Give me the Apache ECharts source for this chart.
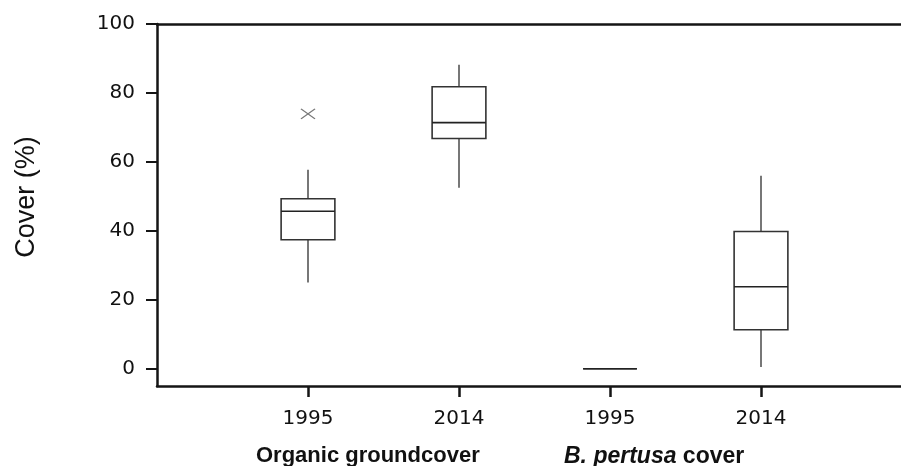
<!DOCTYPE html>
<html>
<head>
<meta charset="utf-8">
<script src="https://cdn.jsdelivr.net/npm/echarts@6/dist/echarts.min.js"></script>
<style>
  html, body { margin: 0; padding: 0; background: #fff; }
  #chart { width: 901px; height: 466px; }
</style>
</head>
<body>
<div id="chart"></div>
<script>
// categories (first and last slots are empty padding)
const xLabels = ['', '1995', '2014', '1995', '2014', '']
const yTicks = [0, 20, 40, 60, 80, 100]

// box statistics, one entry per box (category index 1..4)
const boxIndex = [1, 2, 3, 4]
const boxMin = [25, 52.5, 0, 0.5]
const boxQ1 = [37.4, 66.8, 0, 11.3]
const boxMedian = [45.7, 71.4, 0, 23.8]
const boxQ3 = [49.3, 81.8, 0, 39.8]
const boxMax = [57.7, 88.2, 0, 56]

// outliers: [category index, value]
const outliers = [[1, 73.9]]

const boxData = boxIndex.map((x, i) => [x, boxMin[i], boxQ1[i], boxMedian[i], boxQ3[i], boxMax[i]])

const chart = echarts.init(document.getElementById('chart'))

const axisColor = '#151515'

const option = {
  animation: false,
  grid: {
    left: 157,
    width: 755,
    top: 24,
    bottom: 80,
    outerBoundsMode: 'none'
  },
  xAxis: [
    {
      type: 'category',
      data: xLabels,
      boundaryGap: false,
      axisLine: {
        onZero: false,
        lineStyle: { color: axisColor, width: 2.5 }
      },
      axisTick: {
        length: 11,
        interval: (idx, val) => val !== '',
        lineStyle: { color: axisColor, width: 2.5 }
      },
      axisLabel: {
        margin: 23,
        color: '#111',
        fontFamily: 'DejaVu Sans',
        fontSize: 20
      },
      splitLine: { show: false }
    },
    {
      type: 'category',
      data: xLabels,
      position: 'top',
      boundaryGap: false,
      axisLine: {
        onZero: false,
        lineStyle: { color: axisColor, width: 2.5 }
      },
      axisTick: { show: false },
      axisLabel: { show: false },
      splitLine: { show: false }
    }
  ],
  yAxis: {
    type: 'value',
    min: -5,
    max: 100,
    axisLine: {
      show: true,
      lineStyle: { color: axisColor, width: 2.5 }
    },
    axisTick: {
      show: true,
      length: 11,
      customValues: yTicks,
      lineStyle: { color: axisColor, width: 2 }
    },
    axisLabel: {
      margin: 22,
      customValues: yTicks,
      color: '#111',
      fontFamily: 'DejaVu Sans',
      fontSize: 20
    },
    splitLine: { show: false }
  },
  graphic: [
    {
      type: 'text',
      x: 27,
      y: 197,
      rotation: Math.PI / 2,
      style: {
        text: 'Cover (%)',
        fontFamily: 'Liberation Sans',
        fontSize: 27,
        fill: '#111',
        align: 'center',
        verticalAlign: 'middle'
      }
    },
    {
      type: 'text',
      left: 256,
      top: 445,
      style: {
        text: 'Organic groundcover',
        fontFamily: 'Liberation Sans',
        fontWeight: 'bold',
        fontSize: 22,
        fill: '#111'
      }
    },
    {
      type: 'text',
      left: 564,
      top: 445,
      style: {
        text: '{i|B. pertusa} cover',
        fontFamily: 'Liberation Sans',
        fontWeight: 'bold',
        fontSize: 23,
        fill: '#111',
        rich: {
          i: {
            fontFamily: 'Liberation Sans',
            fontWeight: 'bold',
            fontStyle: 'italic',
            fontSize: 23,
            fill: '#111'
          }
        }
      }
    }
  ],
  series: [
    {
      type: 'custom',
      data: boxData,
      encode: { x: 0, y: [1, 2, 3, 4, 5] },
      renderItem: function (params, api) {
        const x = api.value(0)
        const half = api.size([1, 0])[0] * 0.178
        const pMin = api.coord([x, api.value(1)])
        const pQ1 = api.coord([x, api.value(2)])
        const pMed = api.coord([x, api.value(3)])
        const pQ3 = api.coord([x, api.value(4)])
        const pMax = api.coord([x, api.value(5)])
        const cx = pMed[0]
        const boxStyle = { stroke: '#333', lineWidth: 1.6, fill: 'none' }
        const whiskerStyle = { stroke: '#555', lineWidth: 1.6 }
        const children = []
        if (pMin[1] - pQ1[1] > 0.5) {
          children.push({ type: 'line', shape: { x1: cx, y1: pQ1[1], x2: cx, y2: pMin[1] }, style: whiskerStyle })
        }
        if (pQ3[1] - pMax[1] > 0.5) {
          children.push({ type: 'line', shape: { x1: cx, y1: pQ3[1], x2: cx, y2: pMax[1] }, style: whiskerStyle })
        }
        children.push({
          type: 'rect',
          shape: { x: cx - half, y: pQ3[1], width: half * 2, height: pQ1[1] - pQ3[1] },
          style: boxStyle
        })
        children.push({
          type: 'line',
          shape: { x1: cx - half, y1: pMed[1], x2: cx + half, y2: pMed[1] },
          style: { stroke: '#222', lineWidth: 1.6 }
        })
        return { type: 'group', children: children }
      },
      z: 3
    },
    {
      type: 'scatter',
      data: outliers,
      symbol: 'path://M0,0L10,10M10,0L0,10',
      symbolSize: [14, 10],
      itemStyle: {
        color: 'none',
        borderColor: '#555',
        borderWidth: 1.2
      },
      z: 4
    }
  ]
}

chart.setOption(option)
</script>
</body>
</html>
